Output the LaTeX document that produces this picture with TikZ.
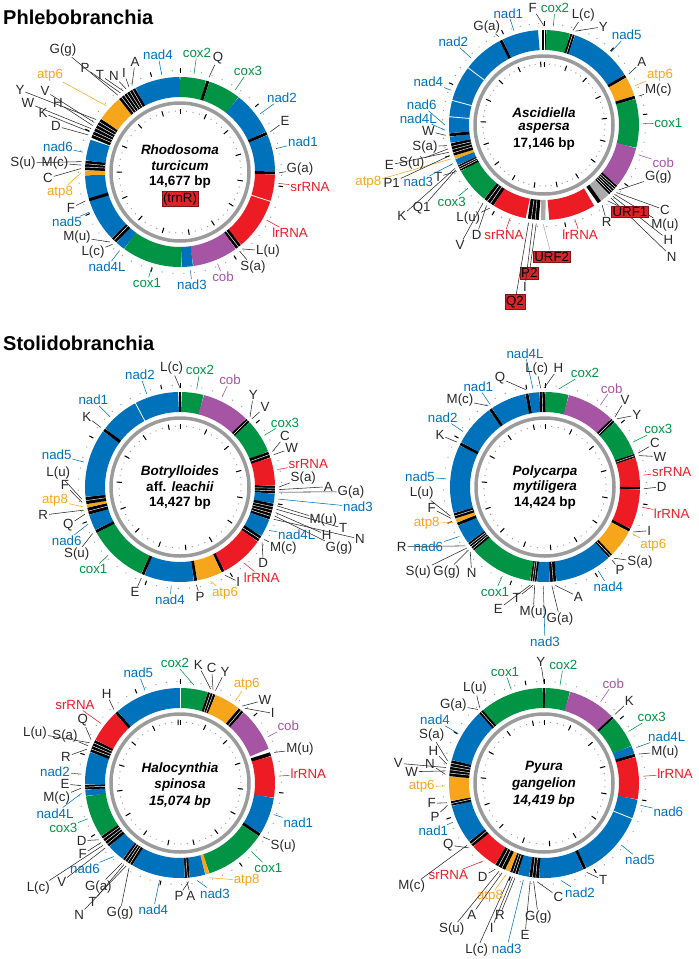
\documentclass[tikz,border=0pt]{standalone}
\usepackage{fontspec}
\setmainfont{Liberation Sans}
\usetikzlibrary{calc}
\definecolor{cblue}{RGB}{0,114,188}
\definecolor{cgreen}{RGB}{0,148,68}
\definecolor{cred}{RGB}{237,28,36}
\definecolor{cpurple}{RGB}{166,84,164}
\definecolor{corange}{RGB}{247,166,28}
\definecolor{cgrey}{RGB}{170,170,170}
\definecolor{cring}{RGB}{155,155,155}
\definecolor{cdot}{RGB}{150,150,150}
\definecolor{cbox}{RGB}{220,35,40}
\definecolor{clead}{RGB}{40,40,40}
\tikzset{
  lab/.style={font=\fontsize{13.3}{14}\selectfont, inner sep=0.8pt},
  lead/.style={line width=0.55pt},
  ring/.style={line width=20pt},
  gring/.style={draw=cring, line width=3.5pt},
  nm/.style={font=\fontsize{13.5}{14}\selectfont\bfseries\itshape, inner sep=0pt},
  bp/.style={font=\fontsize{13.5}{14}\selectfont\bfseries, inner sep=0pt},
  redbox/.style={fill=cbox, draw=cbox!60!black, line width=0.4pt, inner sep=1.2pt, text=black},
  ttl/.style={font=\fontsize{20}{24}\selectfont\bfseries, anchor=west, inner sep=0pt}
}
\newcounter{lbl}
\newcommand\rseg[4]{\draw[ring,#4] ($(#1)+({90-(#2)}:85)$) arc[start angle={90-(#2)},end angle={90-(#3)},radius=85];}
\newcommand\gsep[2]{\draw[white,line width=0.8pt] ($(#1)+({90-(#2)}:74.5)$) -- ($(#1)+({90-(#2)}:95.5)$);}
\newcommand\tbar[4]{\rseg{#1}{#2}{#3}{black}%
  \pgfmathtruncatemacro\nn{#4-1}%
  \ifnum\nn>0 \foreach \k in {1,...,\nn}{\pgfmathsetmacro\myang{90-(#2)-\k*((#3)-(#2))/#4}\draw[white,line width=0.45pt] ($(#1)+(\myang:75)$) -- ($(#1)+(\myang:95)$);}\fi}
\newcommand\glab[6][]{\stepcounter{lbl}%
  \node[lab,text=#6,#1] (n\thelbl) at (#3,-#4) {#5};%
  \coordinate (p\thelbl) at ($(#2)!99pt!(n\thelbl)$);%
  \draw[lead,#6] (p\thelbl) -- (n\thelbl);}
\newcommand\tlab[7][]{\stepcounter{lbl}%
  \node[lab,text=#7,#1] (n\thelbl) at (#4,-#5) {#6};%
  \coordinate (p\thelbl) at ($(#2)+({90-(#3)}:99)$);%
  \draw[lead,#7] (p\thelbl) -- (n\thelbl);}
\newcommand\ticks[2]{%
  \pgfmathsetmacro\stp{360/#2}%
  \pgfmathtruncatemacro\nd{#2*4}%
  \foreach \i in {0,...,\nd}{%
    \pgfmathsetmacro\myang{90-\i*\stp/4}%
    \fill[cdot] ($(#1)+(\myang:101.5)$) circle (0.65);
    \fill[cdot] ($(#1)+(\myang:61)$) circle (0.65);}%
  \pgfmathtruncatemacro\nt{#2}%
  \foreach \i in {0,...,\nt}{%
    \pgfmathsetmacro\myang{90-\i*\stp}%
    \draw[line width=1pt] ($(#1)+(\myang:58)$) -- ($(#1)+(\myang:63.5)$);}%
  \pgfmathtruncatemacro\no{#2/2}%
  \foreach \i in {0,...,\no}{%
    \pgfmathsetmacro\myang{90-\i*2*\stp}%
    \draw[line width=1pt] ($(#1)+(\myang:99.5)$) -- ($(#1)+(\myang:104)$);}}
\begin{document}
\begin{tikzpicture}[x=1pt,y=1pt]
\path[use as bounding box] (0,0) rectangle (699,-959);
\node[ttl] (title1) at (3,-17) {Phlebobranchia};
\node[ttl] (title2) at (3,-343) {Stolidobranchia};

% ===== Circle 1: Rhodosoma =====
\coordinate (c1) at (180,-172);
\ticks{c1}{14.677}
\draw[gring] (c1) circle (69);
\rseg{c1}{332}{360}{cblue}
\rseg{c1}{0}{16}{cgreen}
\tbar{c1}{16}{18}{1}
\rseg{c1}{18}{38}{cgreen}
\rseg{c1}{38}{65}{cblue}
\tbar{c1}{65}{67}{1}
\rseg{c1}{67}{89.5}{cblue}
\tbar{c1}{89.5}{91.5}{1}
\rseg{c1}{91.5}{140}{cred}
\gsep{c1}{108}
\tbar{c1}{140}{144}{2}
\rseg{c1}{144}{172}{cpurple}
\rseg{c1}{172}{179}{cblue}
\rseg{c1}{179}{216}{cgreen}
\rseg{c1}{216}{222}{cblue}
\tbar{c1}{222}{226}{2}
\rseg{c1}{226}{268}{cblue}
\tbar{c1}{252}{254}{1}
\rseg{c1}{268}{271}{corange}
\tbar{c1}{271}{277}{3}
\rseg{c1}{277}{290}{cblue}
\tbar{c1}{291}{304}{6}
\rseg{c1}{304}{320}{corange}
\tbar{c1}{320}{332}{6}
\glab{c1}{158}{55}{nad4}{cblue}
\glab{c1}{197}{53}{cox2}{cgreen}
\tlab{c1}{17}{218}{58}{Q}{clead}
\glab{c1}{248}{71}{cox3}{cgreen}
\glab{c1}{282}{98}{nad2}{cblue}
\tlab{c1}{66}{285}{121}{E}{clead}
\glab{c1}{303}{142}{nad1}{cblue}
\tlab{c1}{90.5}{300}{169}{G(a)}{clead}
\glab{c1}{310}{187}{srRNA}{cred}
\glab{c1}{290}{233}{lrRNA}{cred}
\tlab{c1}{141}{268}{251}{L(u)}{clead}
\tlab{c1}{143}{253}{267}{S(a)}{clead}
\glab{c1}{223}{277}{cob}{cpurple}
\glab{c1}{192}{285}{nad3}{cblue}
\glab{c1}{147}{283}{cox1}{cgreen}
\glab{c1}{107}{267}{nad4L}{cblue}
\tlab{c1}{223}{93}{252}{L(c)}{clead}
\tlab{c1}{225}{77}{237}{M(u)}{clead}
\glab{c1}{67}{222}{nad5}{cblue}
\tlab{c1}{253}{71}{208}{F}{clead}
\tlab{c1}{269.5}{60}{192}{atp8}{corange}
\tlab{c1}{272}{48}{178}{C}{clead}
\tlab{c1}{274}{55}{163}{M(c)}{clead}
\tlab{c1}{276}{23}{163}{S(u)}{clead}
\glab{c1}{58}{147}{nad6}{cblue}
\tlab{c1}{292}{56}{126}{D}{clead}
\tlab{c1}{294}{43}{113}{K}{clead}
\tlab{c1}{296}{28}{103}{W}{clead}
\tlab{c1}{298}{58}{103}{H}{clead}
\tlab{c1}{300}{45}{91}{V}{clead}
\tlab{c1}{302}{20}{90}{Y}{clead}
\tlab{c1}{312}{50}{75}{atp6}{corange}
\tlab{c1}{321}{63}{50}{G(g)}{clead}
\tlab{c1}{323}{85}{68}{P}{clead}
\tlab{c1}{325}{100}{75}{T}{clead}
\tlab{c1}{327}{114}{76}{N}{clead}
\tlab{c1}{329}{124}{73}{I}{clead}
\tlab{c1}{331}{135}{62}{A}{clead}
\node[nm] (r1) at (180,-150) {Rhodosoma};
\node[nm] (r2) at (180,-166) {turcicum};
\node[bp] (r3) at (180,-182) {14,677 bp};
\node[lab,redbox] (r4) at (180,-199) {(trnR)};

% ===== Circle 2: Ascidiella =====
\coordinate (c2) at (544,-125);
\ticks{c2}{17.146}
\draw[gring] (c2) circle (69);
\tbar{c2}{-1.3}{1.3}{2}
\rseg{c2}{1.3}{16}{cgreen}
\tbar{c2}{16}{19}{2}
\rseg{c2}{19}{58}{cblue}
\tbar{c2}{58}{60}{1}
\rseg{c2}{60}{72}{corange}
\tbar{c2}{72}{74}{1}
\rseg{c2}{74}{104}{cgreen}
\rseg{c2}{104}{129.5}{cpurple}
\tbar{c2}{129.5}{137}{5}
\rseg{c2}{137}{143}{cgrey}
\tbar{c2}{143}{145.5}{1}
\rseg{c2}{148}{177}{cred}
\rseg{c2}{179}{182}{cgrey}
\tbar{c2}{183}{190}{3}
\rseg{c2}{191}{212}{cred}
\tbar{c2}{212}{219}{3}
\rseg{c2}{219}{241}{cgreen}
\tbar{c2}{241}{245}{3}
\rseg{c2}{245}{249}{cblue}
\rseg{c2}{249}{251}{corange}
\tbar{c2}{251}{259}{4}
\rseg{c2}{259}{263}{cblue}
\tbar{c2}{263}{265}{1}
\rseg{c2}{265}{332}{cblue}
\gsep{c2}{275}
\gsep{c2}{285}
\gsep{c2}{307}
\tbar{c2}{332}{334}{1}
\rseg{c2}{334}{356.5}{cblue}
\tlab{c2}{0}{532.7}{8.3}{F}{clead}
\glab{c2}{555}{8.3}{cox2}{cgreen}
\glab{c2}{508.3}{13.3}{nad1}{cblue}
\tlab{c2}{17}{583.3}{15}{L(c)}{clead}
\tlab{c2}{18.5}{603.3}{26.7}{Y}{clead}
\glab{c2}{626.7}{35}{nad5}{cblue}
\tlab{c2}{333}{486.7}{26.7}{G(a)}{clead}
\glab{c2}{453.3}{41.7}{nad2}{cblue}
\tlab{c2}{59}{641.7}{61.7}{A}{clead}
\glab{c2}{660}{75}{atp6}{corange}
\tlab{c2}{73}{658.3}{90}{M(c)}{clead}
\glab{c2}{668.3}{123.3}{cox1}{cgreen}
\glab{c2}{663.3}{162.7}{cob}{cpurple}
\tlab{c2}{131}{658.3}{176.7}{G(g)}{clead}
\tlab{c2}{133}{665}{210}{C}{clead}
\tlab{c2}{134.5}{665}{225}{M(u)}{clead}
\tlab{c2}{136}{668.3}{240}{H}{clead}
\tlab{c2}{137.5}{671.7}{256.7}{N}{clead}
\tlab[redbox]{c2}{140}{630}{211.7}{URF1}{clead}
\tlab{c2}{144}{606.7}{221.7}{R}{clead}
\glab{c2}{580}{235}{lrRNA}{cred}
\tlab[redbox]{c2}{180.5}{551.7}{256.7}{URF2}{cgrey}
\tlab[redbox]{c2}{184.5}{529.3}{273.3}{P2}{clead}
\tlab{c2}{186.5}{525}{286.7}{I}{clead}
\tlab[redbox]{c2}{189}{515}{301.7}{Q2}{clead}
\glab{c2}{504}{235}{srRNA}{cred}
\tlab{c2}{213}{468.3}{218.3}{L(u)}{clead}
\tlab{c2}{215.5}{476.7}{235}{D}{clead}
\tlab{c2}{218}{460}{245}{V}{clead}
\glab{c2}{451.7}{201.7}{cox3}{cgreen}
\tlab{c2}{242}{438.3}{176.7}{T}{clead}
\tlab{c2}{243}{421.7}{208.3}{Q1}{clead}
\tlab{c2}{244}{401.7}{216}{K}{clead}
\tlab{c2}{247}{418.3}{181.7}{nad3}{cblue}
\tlab{c2}{250}{368.3}{182.7}{atp8}{corange}
\tlab{c2}{252}{391.7}{182.7}{P1}{clead}
\tlab{c2}{254}{389.3}{165}{E}{clead}
\tlab{c2}{256}{411.7}{162.7}{S(u)}{clead}
\tlab{c2}{258}{425}{146.7}{S(a)}{clead}
\tlab{c2}{264}{428.3}{131}{W}{clead}
\tlab{c2}{267}{418.3}{118.3}{nad4L}{cblue}
\tlab{c2}{270}{421.7}{105}{nad6}{cblue}
\glab{c2}{428.3}{81.7}{nad4}{cblue}
\node[nm] (a1) at (544,-113) {Ascidiella};
\node[nm] (a2) at (544,-128) {aspersa};
\node[bp] (a3) at (544,-144) {17,146 bp};

% ===== Circle 3: Botrylloides =====
\coordinate (c3) at (180,-487);
\ticks{c3}{14.427}
\draw[gring] (c3) circle (69);
\rseg{c3}{308}{359}{cblue}
\gsep{c3}{332}
\tbar{c3}{-1}{1}{1}
\rseg{c3}{1}{14.5}{cgreen}
\rseg{c3}{14.5}{44}{cpurple}
\tbar{c3}{44}{47}{2}
\rseg{c3}{47}{68}{cgreen}
\tbar{c3}{68}{72}{2}
\rseg{c3}{72}{89}{cred}
\tbar{c3}{89}{94}{3}
\rseg{c3}{94}{100}{cblue}
\tbar{c3}{100}{110}{5}
\rseg{c3}{110}{121}{cblue}
\tbar{c3}{121}{125}{2}
\rseg{c3}{125}{152}{cred}
\tbar{c3}{152}{154}{1}
\rseg{c3}{154}{169.5}{corange}
\tbar{c3}{169.5}{171.5}{1}
\rseg{c3}{171.5}{202}{cblue}
\tbar{c3}{202}{204}{1}
\rseg{c3}{204}{241}{cgreen}
\tbar{c3}{241}{243}{1}
\rseg{c3}{243}{253}{cblue}
\tbar{c3}{253}{257.5}{2}
\rseg{c3}{257.5}{259.5}{corange}
\tbar{c3}{259.5}{264}{2}
\rseg{c3}{264}{306}{cblue}
\tbar{c3}{306}{308}{1}
\tlab{c3}{0}{171.7}{368.3}{L(c)}{clead}
\glab{c3}{140}{375}{nad2}{cblue}
\glab{c3}{200}{370}{cox2}{cgreen}
\glab{c3}{230}{380}{cob}{cpurple}
\tlab{c3}{45}{253.3}{395}{Y}{clead}
\tlab{c3}{46.5}{265}{407.3}{V}{clead}
\glab{c3}{285}{422.7}{cox3}{cgreen}
\tlab{c3}{69}{285}{436}{C}{clead}
\tlab{c3}{71}{291.7}{448.3}{W}{clead}
\glab{c3}{308.3}{464}{srRNA}{cred}
\tlab{c3}{90}{303.3}{477.7}{S(a)}{clead}
\tlab{c3}{91.5}{328.3}{486.7}{A}{clead}
\tlab{c3}{93}{351}{491.7}{G(a)}{clead}
\tlab{c3}{97}{358}{507}{nad3}{cblue}
\tlab{c3}{101}{323.3}{520}{M(u)}{clead}
\tlab{c3}{103}{343.3}{528.3}{T}{clead}
\tlab{c3}{105}{326.7}{535}{H}{clead}
\tlab{c3}{107}{339}{548}{G(g)}{clead}
\tlab{c3}{109}{360}{539}{N}{clead}
\tlab{c3}{116}{296.7}{535}{nad4L}{cblue}
\tlab{c3}{122}{283.3}{548.3}{M(c)}{clead}
\tlab{c3}{124}{263.3}{563.3}{D}{clead}
\tlab{c3}{140}{261.7}{577.3}{lrRNA}{cred}
\tlab{c3}{153}{238.3}{581.7}{I}{clead}
\tlab{c3}{162}{225}{593}{atp6}{corange}
\tlab{c3}{170.5}{200}{596.7}{P}{clead}
\glab{c3}{170}{600}{nad4}{cblue}
\tlab{c3}{203}{135}{592}{E}{clead}
\glab{c3}{93.3}{569.3}{cox1}{cgreen}
\tlab{c3}{242}{76.7}{554}{S(u)}{clead}
\tlab{c3}{248}{66.7}{540.7}{nad6}{cblue}
\tlab{c3}{254}{68.3}{525}{Q}{clead}
\tlab{c3}{256.5}{43.3}{515}{R}{clead}
\tlab{c3}{258.5}{55}{500.7}{atp8}{corange}
\tlab{c3}{261}{65}{485}{F}{clead}
\tlab{c3}{263}{58.3}{473.3}{L(u)}{clead}
\glab{c3}{56.7}{455}{nad5}{cblue}
\tlab{c3}{307}{86.7}{416.7}{K}{clead}
\glab{c3}{93.3}{400}{nad1}{cblue}
\node[nm] (b1) at (180,-472) {Botrylloides};
\node[bp] (b2) at (180,-487) {aff. \textit{leachii}};
\node[bp] (b3) at (180,-503) {14,427 bp};

% ===== Circle 4: Polycarpa =====
\coordinate (c4) at (545,-487);
\ticks{c4}{14.424}
\draw[gring] (c4) circle (69);
\rseg{c4}{0}{14.5}{cgreen}
\rseg{c4}{14.5}{44}{cpurple}
\tbar{c4}{44}{47}{2}
\rseg{c4}{47}{69.5}{cgreen}
\tbar{c4}{69.5}{72}{2}
\rseg{c4}{72}{90}{cred}
\tbar{c4}{90}{91.5}{1}
\rseg{c4}{91.5}{116}{cred}
\tbar{c4}{116}{118}{1}
\rseg{c4}{118}{135}{corange}
\tbar{c4}{135}{138}{2}
\rseg{c4}{138}{173}{cblue}
\tbar{c4}{173}{177}{2}
\rseg{c4}{177}{185}{cblue}
\tbar{c4}{185}{189}{3}
\rseg{c4}{189}{228}{cgreen}
\tbar{c4}{228}{234}{4}
\rseg{c4}{234}{246}{cblue}
\tbar{c4}{246}{248}{1}
\rseg{c4}{248}{250.5}{corange}
\tbar{c4}{250.5}{254}{2}
\rseg{c4}{254}{296}{cblue}
\tbar{c4}{296}{298}{1}
\rseg{c4}{298}{324}{cblue}
\tbar{c4}{324}{326}{1}
\rseg{c4}{326}{348}{cblue}
\tbar{c4}{348}{350}{1}
\rseg{c4}{350}{356.5}{cblue}
\tbar{c4}{356.5}{360}{2}
\tlab{c4}{353}{525}{353.3}{nad4L}{cblue}
\tlab{c4}{357.5}{536.7}{369.3}{L(c)}{clead}
\tlab{c4}{359.5}{558.3}{368.3}{H}{clead}
\tlab{c4}{8}{585}{373.3}{cox2}{cgreen}
\tlab{c4}{349}{500}{378.3}{Q}{clead}
\glab{c4}{478.3}{386.7}{nad1}{cblue}
\tlab{c4}{325}{460}{400}{M(c)}{clead}
\glab{c4}{611.7}{388.3}{cob}{cpurple}
\tlab{c4}{45}{625}{400}{V}{clead}
\tlab{c4}{46.5}{636.7}{415}{Y}{clead}
\glab{c4}{442.7}{417.7}{nad2}{cblue}
\tlab{c4}{297}{440}{435}{K}{clead}
\glab{c4}{658.3}{429.3}{cox3}{cgreen}
\tlab{c4}{70}{655}{443.3}{C}{clead}
\tlab{c4}{71.5}{660}{456.7}{W}{clead}
\glab{c4}{671.7}{471.7}{srRNA}{cred}
\tlab{c4}{91}{661.7}{486.7}{D}{clead}
\glab{c4}{671.7}{513.3}{lrRNA}{cred}
\tlab{c4}{117}{649.3}{530.7}{I}{clead}
\glab{c4}{653.3}{545}{atp6}{corange}
\tlab{c4}{136}{640}{561.7}{S(a)}{clead}
\tlab{c4}{137.5}{620}{570}{P}{clead}
\glab{c4}{608.3}{586.7}{nad4}{cblue}
\tlab{c4}{174}{578.3}{596.7}{A}{clead}
\tlab{c4}{176}{560}{619.3}{G(a)}{clead}
\tlab{c4}{181}{545}{641.7}{nad3}{cblue}
\tlab{c4}{186}{533.3}{611.7}{M(u)}{clead}
\tlab{c4}{187}{516.7}{598.3}{T}{clead}
\tlab{c4}{188.5}{498.3}{609.3}{E}{clead}
\glab{c4}{495}{591.7}{cox1}{cgreen}
\tlab{c4}{229}{471.7}{573.3}{N}{clead}
\tlab{c4}{230.5}{446.7}{571.7}{G(g)}{clead}
\tlab{c4}{232}{418.3}{571.7}{S(u)}{clead}
\tlab{c4}{233.5}{401.7}{546.7}{R}{clead}
\tlab{c4}{240}{428.3}{546.7}{nad6}{cblue}
\tlab{c4}{249}{426.7}{523.3}{atp8}{corange}
\tlab{c4}{251.5}{431.7}{508.3}{F}{clead}
\tlab{c4}{253}{421.7}{493.3}{L(u)}{clead}
\glab{c4}{420}{476.7}{nad5}{cblue}
\node[nm] (y1) at (545,-472) {Polycarpa};
\node[nm] (y2) at (545,-487) {mytiligera};
\node[bp] (y3) at (545,-503) {14,424 bp};

% ===== Circle 5: Halocynthia =====
\coordinate (c5) at (180,-783);
\ticks{c5}{15.074}
\draw[gring] (c5) circle (69);
\rseg{c5}{0}{17}{cgreen}
\tbar{c5}{17}{22}{3}
\rseg{c5}{22}{38}{corange}
\tbar{c5}{38}{42}{2}
\rseg{c5}{42}{69}{cpurple}
\tbar{c5}{71}{73.5}{1}
\rseg{c5}{73.5}{99}{cred}
\rseg{c5}{99}{122}{cblue}
\tbar{c5}{122}{124}{1}
\rseg{c5}{124}{162}{cgreen}
\rseg{c5}{162}{164.5}{corange}
\rseg{c5}{164.5}{174}{cblue}
\tbar{c5}{174}{177}{2}
\rseg{c5}{177}{210}{cblue}
\tbar{c5}{210}{217}{4}
\rseg{c5}{217}{228}{cblue}
\tbar{c5}{228}{236}{4}
\rseg{c5}{236}{262}{cgreen}
\rseg{c5}{262}{266}{cblue}
\tbar{c5}{266}{269}{2}
\rseg{c5}{269}{289}{cblue}
\tbar{c5}{289}{297}{4}
\rseg{c5}{297}{317}{cred}
\tbar{c5}{317}{319}{1}
\rseg{c5}{319}{360}{cblue}
\gsep{c5}{0}
\glab{c5}{138.3}{672.7}{nad5}{cblue}
\tlab{c5}{8}{175}{663.3}{cox2}{cgreen}
\tlab{c5}{18}{198.3}{665}{K}{clead}
\tlab{c5}{19.5}{211.7}{668.3}{C}{clead}
\tlab{c5}{21}{225}{671.7}{Y}{clead}
\glab{c5}{246.7}{684}{atp6}{corange}
\tlab{c5}{39}{265}{700}{W}{clead}
\tlab{c5}{41}{272.7}{713.3}{I}{clead}
\glab{c5}{288.3}{726}{cob}{cpurple}
\tlab{c5}{72}{300}{749.3}{M(u)}{clead}
\glab{c5}{308.3}{774}{lrRNA}{cred}
\glab{c5}{298.3}{822.7}{nad1}{cblue}
\tlab{c5}{123}{283.3}{845.7}{S(u)}{clead}
\glab{c5}{268.3}{867.7}{cox1}{cgreen}
\tlab{c5}{163}{246.7}{880.7}{atp8}{corange}
\tlab{c5}{170}{215}{893.3}{nad3}{cblue}
\tlab{c5}{175}{179}{896}{P}{clead}
\tlab{c5}{176}{190.7}{896}{A}{clead}
\glab{c5}{153.3}{910}{nad4}{cblue}
\tlab{c5}{211}{120}{912.7}{G(g)}{clead}
\tlab{c5}{213}{79.3}{915}{N}{clead}
\tlab{c5}{214.5}{92.7}{901.7}{T}{clead}
\tlab{c5}{216}{98.3}{886.7}{G(a)}{clead}
\tlab{c5}{222}{85}{868.3}{nad6}{cblue}
\tlab{c5}{229}{61.7}{881.7}{V}{clead}
\tlab{c5}{231}{38.3}{887.7}{L(c)}{clead}
\tlab{c5}{233}{82.7}{854.3}{F}{clead}
\tlab{c5}{235}{81.7}{840.7}{D}{clead}
\glab{c5}{63.3}{828.3}{cox3}{cgreen}
\tlab{c5}{264}{55}{813.3}{nad4L}{cblue}
\tlab{c5}{267}{56.7}{798.3}{M(c)}{clead}
\tlab{c5}{268.5}{65}{784}{E}{clead}
\glab{c5}{55}{771.7}{nad2}{cblue}
\tlab{c5}{290}{66}{756.7}{R}{clead}
\tlab{c5}{292}{65}{736}{S(a)}{clead}
\tlab{c5}{294}{35}{733.3}{L(u)}{clead}
\tlab{c5}{296}{82.7}{720}{Q}{clead}
\tlab{c5}{307}{75}{705}{srRNA}{cred}
\tlab{c5}{318}{106.7}{694}{H}{clead}
\node[nm] (h1) at (180,-769) {Halocynthia};
\node[nm] (h2) at (180,-785) {spinosa};
\node[nm] (h3) at (180,-802) {15,074 bp};

% ===== Circle 6: Pyura =====
\coordinate (c6) at (544,-783);
\ticks{c6}{14.419}
\draw[gring] (c6) circle (69);
\rseg{c6}{317}{359.3}{cgreen}
\tbar{c6}{-0.7}{0.7}{1}
\rseg{c6}{0.7}{16}{cgreen}
\rseg{c6}{16}{45.5}{cpurple}
\tbar{c6}{45.5}{47}{1}
\rseg{c6}{47}{67}{cgreen}
\rseg{c6}{67}{72}{cblue}
\tbar{c6}{72}{74}{1}
\rseg{c6}{74}{100}{cred}
\rseg{c6}{100}{153.5}{cblue}
\gsep{c6}{112}
\tbar{c6}{153.5}{155.5}{1}
\rseg{c6}{155.5}{183}{cblue}
\tbar{c6}{183}{189}{3}
\rseg{c6}{189}{196}{cblue}
\tbar{c6}{196}{201}{3}
\rseg{c6}{201}{204}{corange}
\tbar{c6}{204}{211}{3}
\rseg{c6}{211}{228}{cred}
\tbar{c6}{228}{232}{2}
\rseg{c6}{232}{256}{cblue}
\tbar{c6}{256}{259}{2}
\rseg{c6}{259}{274}{corange}
\tbar{c6}{274}{284}{5}
\rseg{c6}{284}{317}{cblue}
\tbar{c6}{317}{320}{2}
\tlab{c6}{0}{540.7}{661.7}{Y}{clead}
\glab{c6}{563.3}{665}{cox2}{cgreen}
\glab{c6}{505}{671.7}{cox1}{cgreen}
\glab{c6}{613.3}{683.3}{cob}{cpurple}
\tlab{c6}{319.5}{475}{688.3}{L(u)}{clead}
\tlab{c6}{318}{453.3}{705}{G(a)}{clead}
\tlab{c6}{46}{629.3}{700.7}{K}{clead}
\glab{c6}{651.7}{717.3}{cox3}{cgreen}
\tlab{c6}{69}{666.7}{736.7}{nad4L}{cblue}
\tlab{c6}{73}{665}{751.7}{M(u)}{clead}
\glab{c6}{675}{774}{lrRNA}{cred}
\glab{c6}{668.3}{811.7}{nad6}{cblue}
\glab{c6}{640}{860}{nad5}{cblue}
\tlab{c6}{154.5}{603.3}{880}{T}{clead}
\tlab{c6}{170}{580}{892.7}{nad2}{cblue}
\tlab{c6}{184}{558.3}{896.7}{C}{clead}
\tlab{c6}{186}{538.3}{916.7}{G(g)}{clead}
\tlab{c6}{188}{525}{935}{E}{clead}
\tlab{c6}{192}{506.7}{948.3}{nad3}{cblue}
\tlab{c6}{197}{500}{915}{R}{clead}
\tlab{c6}{198.5}{491.7}{928.3}{I}{clead}
\tlab{c6}{200}{476.7}{950}{L(c)}{clead}
\tlab{c6}{202.5}{490}{896.7}{atp8}{corange}
\tlab{c6}{205}{471.7}{915}{A}{clead}
\tlab{c6}{207}{451.7}{929.3}{S(u)}{clead}
\tlab{c6}{209.5}{482.7}{876.7}{D}{clead}
\tlab{c6}{218}{448.3}{875}{srRNA}{cred}
\tlab{c6}{229}{448.3}{845}{Q}{clead}
\tlab{c6}{231}{411.7}{886}{M(c)}{clead}
\glab{c6}{433.3}{830.7}{nad1}{cblue}
\tlab{c6}{257}{435}{817.3}{P}{clead}
\tlab{c6}{258.5}{431.7}{803.3}{F}{clead}
\glab{c6}{421.7}{786.7}{atp6}{corange}
\tlab{c6}{275}{430}{764}{N}{clead}
\tlab{c6}{277}{411.7}{771.7}{W}{clead}
\tlab{c6}{279}{398.3}{763.3}{V}{clead}
\tlab{c6}{281}{433.3}{750.7}{H}{clead}
\tlab{c6}{283}{431.7}{735}{S(a)}{clead}
\glab{c6}{435}{720}{nad4}{cblue}
\node[nm] (g1) at (544,-767) {Pyura};
\node[nm] (g2) at (544,-784) {gangelion};
\node[nm] (g3) at (544,-801) {14,419 bp};
\end{tikzpicture}
\end{document}
